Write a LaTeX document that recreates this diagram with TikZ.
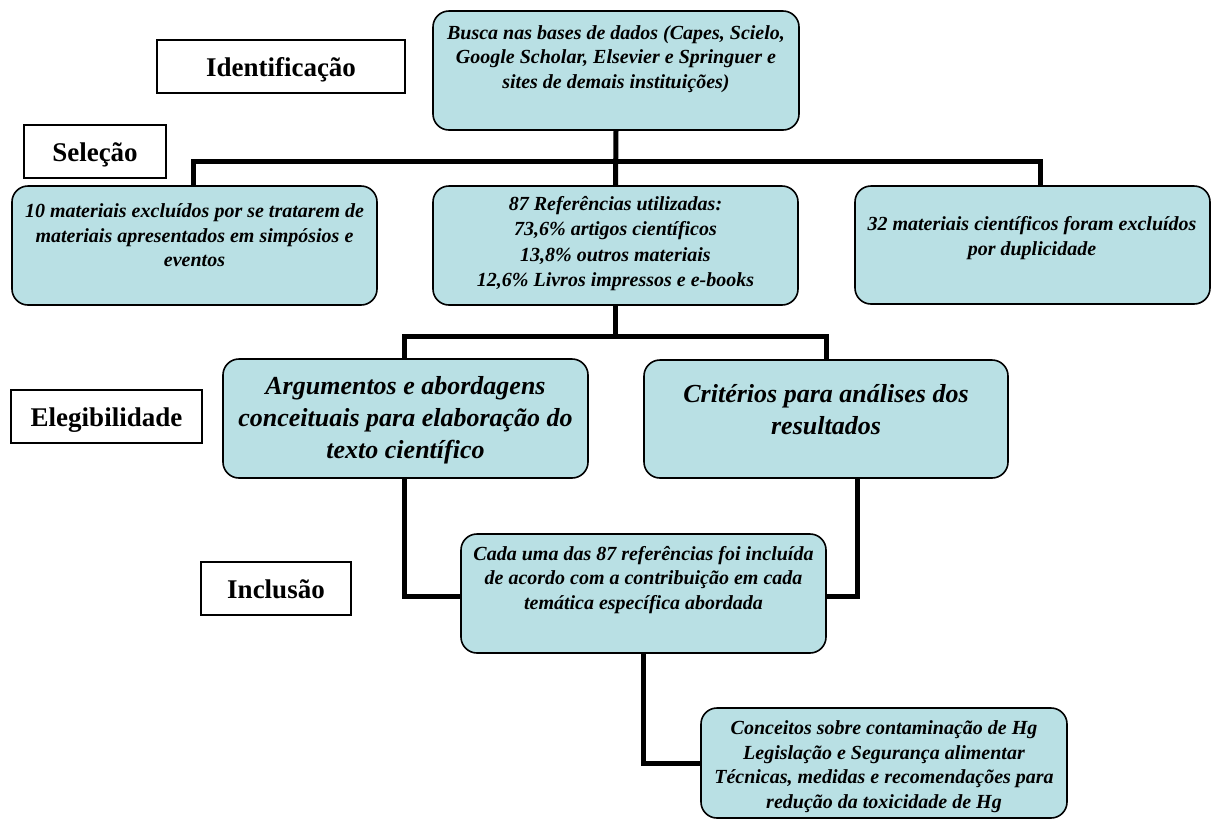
\documentclass[tikz,border=0pt]{standalone}
\usepackage{fontspec}
\setmainfont{Liberation Serif}
\usetikzlibrary{backgrounds}
\definecolor{boxfill}{RGB}{185,224,228}
\begin{document}
\begin{tikzpicture}[x=1pt,y=-1pt,
  box/.style={draw=black, line width=1.6pt, fill=boxfill, rounded corners=16pt, inner sep=0pt},
  lbl/.style={draw=black, line width=1.4pt, fill=white, inner sep=0pt, text height=20pt, text depth=0pt, font=\fontsize{27}{30}\selectfont\bfseries},
  txt/.style={align=center, inner sep=0pt, font=\fontsize{20}{24.5}\selectfont\bfseries\itshape},
  bigtxt/.style={align=center, inner sep=0pt, font=\fontsize{26}{32}\selectfont\bfseries\itshape},
  conn/.style={line width=5pt, draw=black}]
\useasboundingbox (0,0) rectangle (1211,823);

% labels
\node[lbl, minimum width=248pt, minimum height=53pt] (ident) at (281,66.5) {Identificação};
\node[lbl, minimum width=142pt, minimum height=53pt] (sel) at (95,151.5) {Seleção};
\node[lbl, minimum width=191pt, minimum height=53pt] (eleg) at (106.5,416.5) {Elegibilidade};
\node[lbl, minimum width=150pt, minimum height=53pt] (incl) at (276,588.5) {Inclusão};

% boxes
\node[box, minimum width=366pt, minimum height=119pt] (top) at (616,70.5) {};
\node[box, minimum width=365pt, minimum height=119pt] (left) at (194.5,245.5) {};
\node[box, minimum width=365pt, minimum height=119pt] (mid) at (615.5,245.5) {};
\node[box, minimum width=355pt, minimum height=118pt] (right) at (1032.5,245) {};
\node[box, minimum width=365pt, minimum height=119pt] (arg) at (405.5,418.5) {};
\node[box, minimum width=364pt, minimum height=118pt] (crit) at (826,419) {};
\node[box, minimum width=365pt, minimum height=119pt] (cada) at (643.5,593.5) {};
\node[box, minimum width=366pt, minimum height=110pt] (conc) at (884,763) {};

% texts
\node[txt] (ttop) at (616,59) {Busca nas bases de dados (Capes, Scielo,\\Google Scholar, Elsevier e Springuer e\\sites de demais instituições)};
\node[txt] (tleft) at (194.5,235.5) {10 materiais excluídos por se tratarem de\\materiais apresentados em simpósios e\\eventos};
\node[txt, font=\fontsize{20}{25.5}\selectfont\bfseries\itshape] (tmid) at (615.5,243.5) {87 Referências utilizadas:\\73,6\% artigos científicos\\13,8\% outros materiais\\12,6\% Livros impressos e e-books};
\node[txt] (tright) at (1032,238) {32 materiais científicos foram excluídos\\por duplicidade};
\node[bigtxt] (targ) at (405.5,420) {Argumentos e abordagens\\conceituais para elaboração do\\texto científico};
\node[bigtxt] (tcrit) at (826,410) {Critérios para análises dos\\resultados};
\node[txt] (tcada) at (643.5,580) {Cada uma das 87 referências foi incluída\\de acordo com a contribuição em cada\\temática específica abordada};
\node[txt] (tconc) at (884,766.5) {Conceitos sobre contaminação de Hg\\Legislação e Segurança alimentar\\Técnicas, medidas e recomendações para\\redução da toxicidade de Hg};

% connectors
\coordinate (j1) at (617,161);
\coordinate (j2) at (615.5,336);
\begin{scope}[on background layer]
\draw[conn] (top.south) -- (mid.north);
\draw[conn] ([xshift=-1.5pt]left.north) |- (j1) -| ([xshift=7.5pt]right.north);
\draw[conn] (mid.south) -- (j2);
\draw[conn] ([xshift=-1.5pt]arg.north) |- (j2) -| (crit.north);
\draw[conn] ([xshift=-1.5pt]arg.south) |- ([yshift=-3pt]cada.west);
\draw[conn] ([xshift=31pt]crit.south) |- ([yshift=-3pt]cada.east);
\draw[conn] (cada.south) |- (conc.west);
\end{scope}
\end{tikzpicture}
\end{document}
